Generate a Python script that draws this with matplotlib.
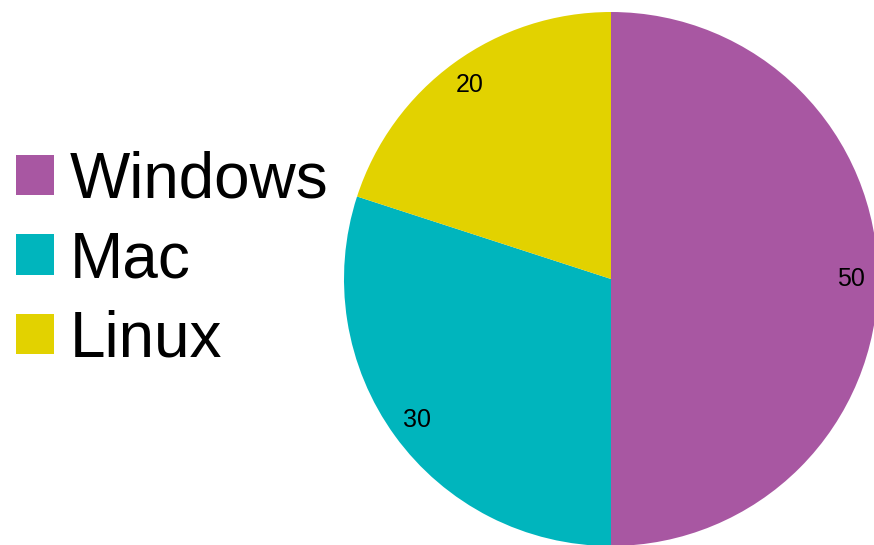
import matplotlib
matplotlib.use("Agg")
import matplotlib.pyplot as plt
from matplotlib.patches import Patch

plt.rcParams["font.family"] = ["Liberation Sans", "DejaVu Sans"]

# data
labels = ["Windows", "Mac", "Linux"]
values = [50, 30, 20]
colors = ["#A857A2", "#00B5BD", "#E2D200"]

fig = plt.figure(figsize=(8.74, 5.45), dpi=100)

# pie axes: centre ~ (611, 279) px, radius ~267 px
W, H = 874, 545
cx, cy, r = 611, 279, 267
ax = fig.add_axes([(cx - r) / W, (H - cy - r) / H, 2 * r / W, 2 * r / H])
total = sum(values)
wedges, texts, autotexts = ax.pie(
    values, colors=colors, startangle=90, counterclock=False,
    autopct=lambda p: f"{round(p * total / 100):d}", pctdistance=0.9,
    wedgeprops=dict(linewidth=0), textprops=dict(fontsize=18, color="black"),
)
ax.set_xlim(-1, 1)
ax.set_ylim(-1, 1)
ax.set_aspect("equal")
for w in wedges:
    w.set_clip_on(False)

handles = [Patch(facecolor=c, edgecolor="none") for c in colors]
fig.legend(handles, labels, loc="center left",
           bbox_to_anchor=(16 / W, 1 - 260 / H), borderaxespad=0,
           frameon=False, fontsize=46, handlelength=0.59, handleheight=0.59,
           handletextpad=0.25, labelspacing=0.31, borderpad=0)

fig.savefig("out.png", dpi=100)
